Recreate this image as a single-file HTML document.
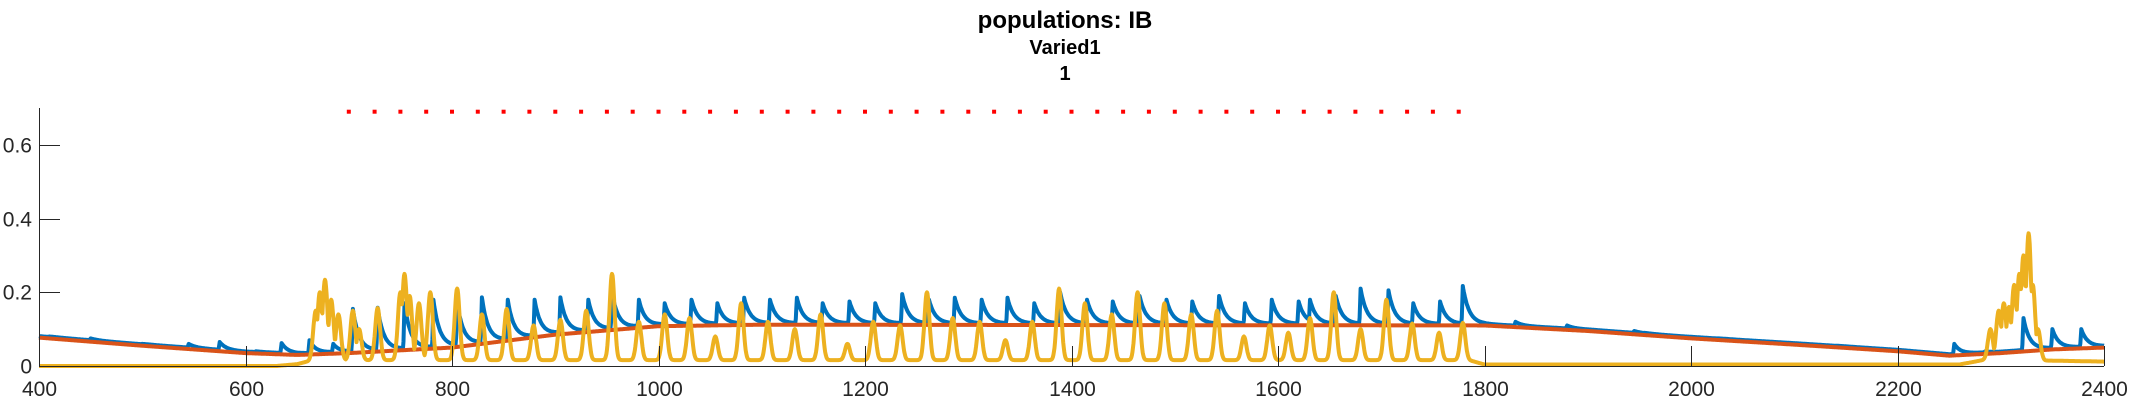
<!DOCTYPE html>
<html><head><meta charset="utf-8">
<style>
html,body{margin:0;padding:0;background:#fff;}
svg{display:block;font-family:"Liberation Sans",sans-serif;}
</style></head>
<body>
<svg id="chart" width="2133" height="400" viewBox="0 0 2133 400">
<g>
<text x="1065" y="28" text-anchor="middle" font-size="24" font-weight="bold" fill="#000">populations: IB</text>
<text x="1065" y="54" text-anchor="middle" font-size="20" font-weight="bold" fill="#000">Varied1</text>
<text x="1065" y="80" text-anchor="middle" font-size="20" font-weight="bold" fill="#000">1</text>
</g>
<g id="plot"></g>
<g id="axes"></g>
</svg>
<script>
// ---- data ----
const xTicks = [400, 600, 800, 1000, 1200, 1400, 1600, 1800, 2000, 2200, 2400];
const yTicks = [0, 0.2, 0.4, 0.6];
const yTickLabels = ["0", "0.2", "0.4", "0.6"];
// red (baseline population) control points
const redT = [400, 500, 600, 650, 700, 800, 900, 1000, 1100, 1800, 1900, 2000, 2100, 2200, 2250, 2300, 2350, 2400];
const redV = [0.077, 0.055, 0.035, 0.03, 0.035, 0.05, 0.085, 0.108, 0.112, 0.11, 0.095, 0.075, 0.058, 0.04, 0.028, 0.035, 0.045, 0.05];
// blue spikes
const blueSpikeT = [410, 450, 500, 545, 575, 610, 635, 662, 685, 704, 728, 754, 782, 805, 829, 854, 880, 905, 932, 955, 981, 1006, 1032, 1057, 1083, 1108, 1134, 1159, 1185, 1210, 1236, 1262, 1287, 1313, 1338, 1364, 1389, 1415, 1440, 1466, 1492, 1517, 1543, 1568, 1594, 1620, 1631, 1656, 1680, 1707, 1731, 1757, 1779, 1830, 1880, 1895, 1945, 1955, 1990, 2025, 2040, 2090, 2140, 2190, 2255, 2285, 2322, 2350, 2378];
const blueSpikeV = [0.08, 0.075, 0.06, 0.06, 0.065, 0.04, 0.062, 0.07, 0.06, 0.155, 0.158, 0.17, 0.18, 0.175, 0.186, 0.18, 0.18, 0.186, 0.18, 0.2, 0.18, 0.17, 0.18, 0.17, 0.185, 0.18, 0.185, 0.17, 0.175, 0.17, 0.195, 0.18, 0.185, 0.18, 0.185, 0.17, 0.2, 0.18, 0.175, 0.19, 0.18, 0.175, 0.19, 0.17, 0.18, 0.175, 0.18, 0.19, 0.21, 0.205, 0.17, 0.175, 0.217, 0.12, 0.11, 0.1, 0.095, 0.09, 0.08, 0.075, 0.065, 0.06, 0.055, 0.04, 0.06, 0.04, 0.13, 0.1, 0.1];
// yellow spikes
const ySpikeT = [668, 672, 677, 683, 690, 704, 710, 728, 750, 754, 759, 768, 779, 805, 829, 853, 879, 905, 930, 955, 981, 1006, 1030, 1055, 1080, 1106, 1132, 1157, 1183, 1208, 1234, 1260, 1285, 1311, 1336, 1362, 1388, 1413, 1439, 1464, 1490, 1516, 1541, 1567, 1592, 1610, 1631, 1654, 1680, 1705, 1730, 1756, 1779, 2290, 2298, 2303, 2308, 2313, 2318, 2322, 2327, 2331, 2336];
const ySpikeV = [0.15, 0.2, 0.234, 0.18, 0.14, 0.15, 0.1, 0.157, 0.2, 0.25, 0.19, 0.17, 0.2, 0.21, 0.14, 0.155, 0.11, 0.125, 0.15, 0.25, 0.12, 0.14, 0.13, 0.08, 0.17, 0.12, 0.1, 0.14, 0.06, 0.12, 0.11, 0.2, 0.13, 0.12, 0.07, 0.12, 0.21, 0.17, 0.14, 0.2, 0.17, 0.14, 0.15, 0.08, 0.11, 0.09, 0.13, 0.2, 0.1, 0.18, 0.115, 0.09, 0.117, 0.1, 0.15, 0.17, 0.16, 0.22, 0.25, 0.3, 0.36, 0.22, 0.1];
// yellow baseline control points
const yBaseT = [400, 630, 650, 665, 1785, 1800, 2260, 2290, 2340, 2400];
const yBaseV = [0, 0, 0.005, 0.016, 0.016, 0.004, 0.004, 0.02, 0.015, 0.012];
// red dotted reference marker
const dotStart = 700, dotEnd = 1775, dotStep = 25, dotValue = 0.69;

// ---- axes functions ----
const X0 = 39, X1 = 2104, Y0 = 366, YTOP = 108;
const sx = t => X0 + (t - 400) * (X1 - X0) / 2000;
const sy = v => Y0 - v * (Y0 - YTOP) / 0.7;
const NS = "http://www.w3.org/2000/svg";
const plot = document.getElementById("plot");
const axes = document.getElementById("axes");

function interp(T, V, t) {
  if (t <= T[0]) return V[0];
  for (let i = 1; i < T.length; i++) if (t <= T[i]) {
    const f = (t - T[i-1]) / (T[i] - T[i-1]); return V[i-1] + f * (V[i] - V[i-1]);
  }
  return V[V.length - 1];
}
function blueAt(t) {
  const base = interp(redT, redV, t) + 0.004;
  let v = base;
  for (let i = 0; i < blueSpikeT.length; i++) {
    const d = t - blueSpikeT[i];
    let c = 0;
    if (d >= -1.2 && d < 0) c = (1 + d / 1.2);
    else if (d >= 0) c = Math.exp(-d / 6);
    if (c > 0) v = Math.max(v, base + (blueSpikeV[i] - base) * c);
  }
  return v;
}
function yellowAt(t) {
  const base = interp(yBaseT, yBaseV, t);
  let v = base;
  for (let i = 0; i < ySpikeT.length; i++) {
    const d = t - ySpikeT[i];
    const c = Math.exp(-(d * d) / (2 * 2.4 * 2.4));
    v = Math.max(v, base + (ySpikeV[i] - base) * c);
  }
  return v;
}
function pathOf(fn, name, color, w) {
  let d = "";
  for (let t = 400; t <= 2400; t += 0.5) {
    d += (d ? "L" : "M") + sx(t).toFixed(1) + "," + sy(fn(t)).toFixed(1);
  }
  const p = document.createElementNS(NS, "path");
  p.setAttribute("d", d);
  p.setAttribute("fill", "none");
  p.setAttribute("stroke", color);
  p.setAttribute("stroke-width", w);
  p.setAttribute("stroke-linejoin", "round");
  
  
  plot.appendChild(p);
}
pathOf(blueAt, "series-blue", "#0072BD", "4");
pathOf(t => interp(redT, redV, t), "series-red", "#D95319", "4");
pathOf(yellowAt, "series-yellow", "#EDB120", "4");

for (let t = dotStart; t <= dotEnd; t += dotStep) {
  const r = document.createElementNS(NS, "rect");
  r.setAttribute("x", (sx(t) - 2).toFixed(1));
  r.setAttribute("y", (sy(dotValue) - 2).toFixed(1));
  r.setAttribute("width", "4");
  r.setAttribute("height", "4");
  r.setAttribute("fill", "#ff0000");
  
  
  plot.appendChild(r);
}

function line(x1, y1, x2, y2) {
  const l = document.createElementNS(NS, "line");
  l.setAttribute("x1", x1); l.setAttribute("y1", y1);
  l.setAttribute("x2", x2); l.setAttribute("y2", y2);
  l.setAttribute("stroke", "#262626"); l.setAttribute("stroke-width", "1");
  axes.appendChild(l);
  return l;
}
function text(x, y, s, anchor) {
  const e = document.createElementNS(NS, "text");
  e.setAttribute("x", x); e.setAttribute("y", y);
  e.setAttribute("text-anchor", anchor);
  e.setAttribute("font-size", "21");
  e.setAttribute("fill", "#262626");
  e.textContent = s;
  axes.appendChild(e);
  return e;
}
const ly = line(X0 + 0.5, YTOP, X0 + 0.5, Y0 + 0.5);


const lx = line(X0, Y0 + 0.5, X1, Y0 + 0.5);


yTicks.forEach((v, i) => {
  const y = Math.round(sy(v)) + 0.5;
  const tk = line(X0, y, X0 + 21, y);
  
  
  const lb = text(32, y + 7, yTickLabels[i], "end");
  
  
});
xTicks.forEach(t => {
  const x = Math.round(sx(t)) + 0.5;
  const tk = line(x, Y0, x, Y0 - 20);
  
  
  const lb = text(x, 396, String(t), "middle");
  
  
});
</script>
</body></html>
